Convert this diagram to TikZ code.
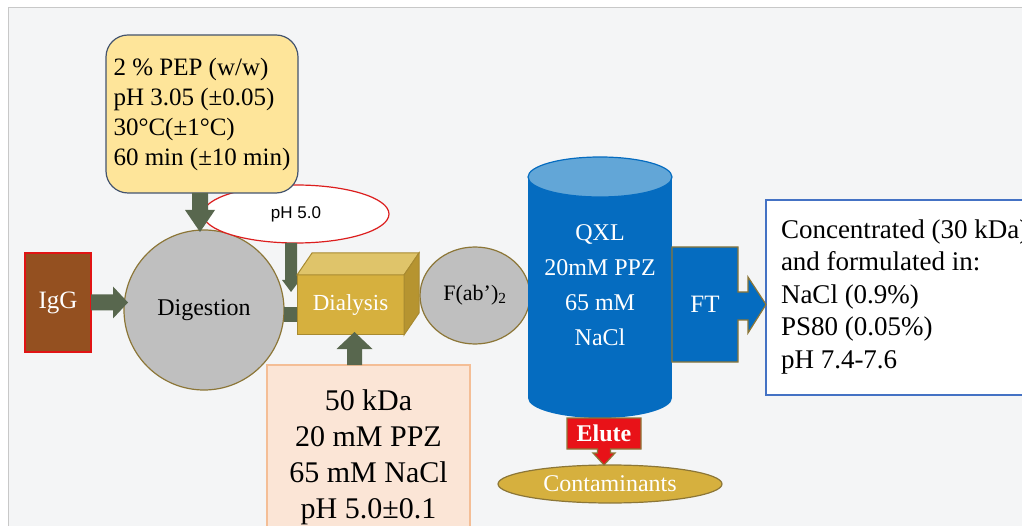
\documentclass[tikz,border=0pt]{standalone}
\usepackage{fontspec}
\setmainfont{Liberation Serif}
\newfontfamily\sansf{Liberation Sans}
\usetikzlibrary{calc,shapes.geometric}
\definecolor{bgpanel}{RGB}{244,245,246}
\definecolor{panelline}{RGB}{200,200,200}
\definecolor{condfill}{RGB}{254,229,154}
\definecolor{condline}{RGB}{68,84,110}
\definecolor{arrgreen}{RGB}{88,103,78}
\definecolor{circgray}{RGB}{191,191,191}
\definecolor{circline}{RGB}{140,118,55}
\definecolor{iggfill}{RGB}{148,80,32}
\definecolor{iggline}{RGB}{225,20,20}
\definecolor{dialfront}{RGB}{214,176,62}
\definecolor{dialtop}{RGB}{223,196,106}
\definecolor{dialside}{RGB}{182,148,48}
\definecolor{dialline}{RGB}{168,138,48}
\definecolor{peachfill}{RGB}{251,229,214}
\definecolor{peachline}{RGB}{244,190,150}
\definecolor{cylblue}{RGB}{5,108,192}
\definecolor{cyltop}{RGB}{98,166,215}
\definecolor{phred}{RGB}{220,30,30}
\definecolor{elutered}{RGB}{232,18,24}
\definecolor{formline}{RGB}{68,114,196}
\newcommand\fs[2]{\fontsize{#1}{#2}\selectfont}
% block arrows: #1 start, #2 tip reference, #3 shaft half width, #4 head half width, #5 head length, #6 colour
\newcommand\arrdn[6]{\fill[#6] ($(#1)+(-#3,0)$) -- ($(#1 |- #2)+(-#3,-#5)$) -- ($(#1 |- #2)+(-#4,-#5)$) -- (#1 |- #2) -- ($(#1 |- #2)+(#4,-#5)$) -- ($(#1 |- #2)+(#3,-#5)$) -- ($(#1)+(#3,0)$) -- cycle;}
\newcommand\arrup[6]{\fill[#6] ($(#1)+(-#3,0)$) -- ($(#1 |- #2)+(-#3,#5)$) -- ($(#1 |- #2)+(-#4,#5)$) -- (#1 |- #2) -- ($(#1 |- #2)+(#4,#5)$) -- ($(#1 |- #2)+(#3,#5)$) -- ($(#1)+(#3,0)$) -- cycle;}
\newcommand\arrrt[6]{\fill[#6] ($(#1)+(0,-#3)$) -- ($(#2 |- #1)+(-#5,-#3)$) -- ($(#2 |- #1)+(-#5,-#4)$) -- (#2 |- #1) -- ($(#2 |- #1)+(-#5,#4)$) -- ($(#2 |- #1)+(-#5,#3)$) -- ($(#1)+(0,#3)$) -- cycle;}
\begin{document}
\begin{tikzpicture}[x=1pt,y=-1pt,
  every node/.style={inner sep=0pt, outer sep=0pt},
  edge/.style={line width=1.2pt},
  bubble/.style={edge, draw=circline, fill=circgray},
]
\useasboundingbox (0,0) rectangle (1022,526);
\clip (0,0) rectangle (1022,526);
\fill[white] (0,0) rectangle (1022,526);
\fill[bgpanel] (8,8) rectangle (1022,526);
\draw[panelline, line width=1pt] (8,526) -- (8,8) -- (1022,8);

% Digestion
\node[circle, bubble, minimum size=160pt, font=\fs{24}{24}] (dig) at (204,310) {Digestion};
% pH 5.0 ellipse
\node[ellipse, edge, draw=phred, fill=white, minimum width=186pt, minimum height=58pt, font=\sansf\fs{17}{17}] (ph) at (296,214) {pH 5.0};
% conditions box
\node[draw=condline, fill=condfill, edge, rounded corners=22pt, minimum width=192pt, minimum height=158pt, align=left, font=\fs{25}{30}] (cond) at (202,114) {2 \% PEP (w/w)\\pH 3.05 (±0.05)\\30°C(±1°C)\\60 min (±10 min)};
\coordinate (condout) at ($(cond.south)+(-2,0)$);
\coordinate (digtop) at ($(dig.north)+(0,2)$);
\arrdn{condout}{digtop}{8}{15}{22}{arrgreen}

% IgG
\node[draw=iggline, fill=iggfill, line width=1.5pt, minimum width=66pt, minimum height=99pt, text=white, font=\fs{25}{25}] (igg) at (58,302.5) {IgG};
\coordinate (digin) at ($(dig.west)+(4,0)$);
\arrrt{igg.east}{digin}{8}{16}{15}{arrgreen}

% pH -> dialysis
\coordinate (phout) at ($(ph.south)+(-5,0)$);
\coordinate (dialin) at ($(ph.south)+(-5,49)$);
\arrdn{phout}{dialin}{6}{9}{12}{arrgreen}

% F(ab')2
\node[ellipse, bubble, minimum width=110pt, minimum height=97pt, font=\fs{22}{22}] (fab) at (475,295.5) {F(ab’)\textsubscript{2}};

% Dialysis cuboid
\node[draw=dialline, fill=dialfront, line width=1pt, minimum width=107pt, minimum height=60pt, text=white, font=\fs{23}{23}] (dial) at (350.5,305) {Dialysis};
\filldraw[fill=dialtop, draw=dialline, line width=1pt] (dial.north west) -- ++(15,-22) -- ++(107,0) -- (dial.north east) -- cycle;
\filldraw[fill=dialside, draw=dialline, line width=1pt] (dial.north east) -- ++(15,-22) -- ++(0,60) -- (dial.south east) -- cycle;
\fill[arrgreen] ($(dig.east)+(0,-3)$) rectangle ($(dial.west |- dig.east)+(-0.5,12)$);

% buffer box
\node[draw=peachline, fill=peachfill, edge, minimum width=203pt, minimum height=184pt, align=center, font=\fs{30}{36}] (buf) at (368.5,457) {50 kDa\\20 mM PPZ\\65 mM NaCl\\pH 5.0±0.1};
\coordinate (dialbot) at ($(dial.south)+(4,-3)$);
\coordinate (bufout) at (dialbot |- buf.north);
\arrup{bufout}{dialbot}{7.5}{18}{17}{arrgreen}

% column
\fill[cylblue] (528,177) rectangle (672,398);
\fill[cylblue] (600,398) ellipse[x radius=72, y radius=20];
\filldraw[fill=cyltop, draw=cylblue, edge] (600,177) ellipse[x radius=72, y radius=20];
\node[text=white, align=center, font=\fs{24}{35}] (cyl) at (600,285) {QXL\\20mM PPZ\\65 mM\\NaCl};

% formulation box
\node[draw=formline, fill=white, line width=1.5pt, minimum width=320pt, minimum height=195pt, anchor=north west] (form) at (766,200) {};
\node[anchor=north west, align=left, font=\fs{27}{32.5}] (formtext) at (781,219.5) {Concentrated (30 kDa)\\and formulated in:\\NaCl (0.9\%)\\PS80 (0.05\%)\\pH 7.4-7.6};

% FT arrow
\path node[minimum width=66pt, minimum height=115pt] (ft) at (705,304.5) {};
\draw[fill=cylblue, draw=circline, edge] (ft.north west) -- (ft.north east) -- ($(ft.east)+(0,-12.5)$) -- ++(10,0) -- ++(0,-15) -- (form.west |- ft.east) -- ($(ft.east)+(10,28.5)$) -- ++(0,-13) -- ($(ft.east)+(0,15.5)$) -- (ft.south east) -- (ft.south west) -- cycle;
\node[text=white, font=\fs{25}{25}] (ftlabel) at (ft) {FT};

% contaminants and elute
\node[ellipse, edge, draw=circline, fill=dialfront, minimum width=224pt, minimum height=38pt, text=white, font=\fs{24}{24}] (cont) at (610,484) {Contaminants};
\path node[minimum width=74pt, minimum height=31pt] (elute) at (604,433.5) {};
\draw[fill=elutered, draw=circline, edge] (elute.north west) -- (elute.north east) -- (elute.south east) -- ($(elute.south)+(6.5,0)$) -- ++(0,4) -- ++(4.5,0) -- (elute.south |- cont.north) -- ($(elute.south)+(-11,4)$) -- ++(4.5,0) -- ++(0,-4) -- (elute.south west) -- cycle;
\node[text=white, font=\bfseries\fs{24}{24}] (elutelabel) at (elute) {Elute};
\end{tikzpicture}
\end{document}
